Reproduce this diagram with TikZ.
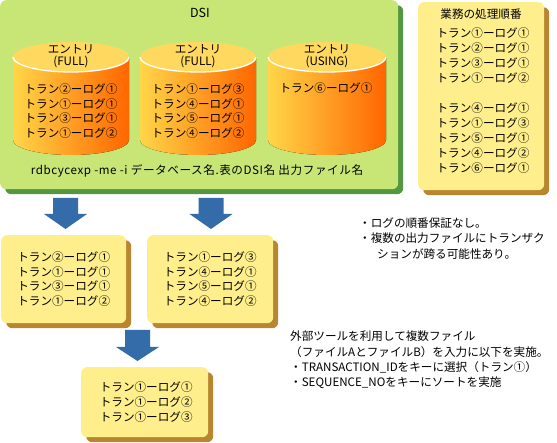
\documentclass[tikz,border=0pt]{standalone}
\usepackage{fontspec}
\setmainfont{Noto Sans CJK JP}
\usetikzlibrary{shadows}
\definecolor{dsigreen}{RGB}{200,230,118}
\definecolor{dsishadow}{RGB}{84,150,66}
\definecolor{memo}{RGB}{255,238,140}
\definecolor{memoshadow}{RGB}{184,134,48}
\definecolor{cyltop}{RGB}{255,216,96}
\definecolor{cylleft}{RGB}{255,214,72}
\definecolor{cylright}{RGB}{255,102,0}
\definecolor{arrowblue}{RGB}{51,108,168}
\begin{document}
\begin{tikzpicture}[x=1pt,y=-1pt,
  txt/.style={font=\fontsize{11.6}{14.7}\selectfont, inner sep=0pt, align=center},
  txtb/.style={font=\fontsize{11.6}{15}\selectfont, inner sep=0pt, align=center},
  notetxt/.style={font=\fontsize{11.6}{15.3}\selectfont, inner sep=0pt, align=left, anchor=west},
  greenbox/.style={anchor=north west, fill=dsigreen, rounded corners=6pt, inner sep=0pt,
    drop shadow={shadow xshift=5pt, shadow yshift=-5pt, fill=dsishadow, opacity=1}},
  memobox/.style={anchor=north west, fill=memo, rounded corners=6pt, inner sep=0pt,
    font=\fontsize{11.6}{14.7}\selectfont, align=center,
    drop shadow={shadow xshift=5pt, shadow yshift=-5pt, fill=memoshadow, opacity=1}},
  blockarrow/.style={fill=arrowblue}
]
\useasboundingbox (0,0) rectangle (557,443);

% DSI container
\node[greenbox, minimum width=398pt, minimum height=189pt] (dsi) at (0,0) {};
\node[txt, font=\fontsize{12.5}{14}\selectfont] (dsititle) at (200,13) {DSI};

% cylinders
\foreach \xl/\xr in {13/129, 140/256, 268/386} {
  \pgfmathsetmacro{\cx}{(\xl+\xr)/2}
  \pgfmathsetmacro{\rx}{(\xr-\xl)/2}
  \fill[left color=cylleft, right color=cylright]
    (\xl,57) -- (\xl,140) arc[start angle=180, end angle=360, x radius=\rx pt, y radius=15pt]
    -- (\xr,57) -- cycle;
  \fill[cyltop] (\cx,57) ellipse[x radius=\rx pt, y radius=15pt];
  \draw[white, line width=1.3pt] (\xl,57) arc[start angle=180, end angle=360, x radius=\rx pt, y radius=15pt];
}
\node[txt] (c1h) at (71,49) {エントリ};
\node[txt] (c1m) at (71,62) {(FULL)};
\node[txt] (c1t) at (71,111) {トラン②ーログ①\\トラン①ーログ①\\トラン③ーログ①\\トラン①ーログ②};
\node[txt] (c2h) at (198,49) {エントリ};
\node[txt] (c2m) at (198,62) {(FULL)};
\node[txt] (c2t) at (198,111) {トラン①ーログ③\\トラン④ーログ①\\トラン⑤ーログ①\\トラン④ーログ②};
\node[txt] (c3h) at (327,49) {エントリ};
\node[txt] (c3m) at (327,62) {(USING)};
\node[txt] (c3t) at (326,88) {トラン⑥ーログ①};

\node[txt] (cmd) at (197,171) {\addfontfeature{LetterSpace=5}rdbcycexp -me -i データベース名.表のDSI名 出力ファイル名};

% business order memo
\node[memobox, minimum width=126pt, minimum height=188pt] (order) at (418,2) {};
\node[txt] (ordertitle) at (481,14) {業務の処理順番};
\node[txtb] (order1) at (483,55.5) {トラン①ーログ①\\トラン②ーログ①\\トラン③ーログ①\\トラン①ーログ②};
\node[txtb] (order2) at (483,138) {トラン④ーログ①\\トラン①ーログ③\\トラン⑤ーログ①\\トラン④ーログ②\\トラン⑥ーログ①};

% output files
\node[memobox, minimum width=125pt, minimum height=88pt] (fileA) at (1,235)
  {トラン②ーログ①\\トラン①ーログ①\\トラン③ーログ①\\トラン①ーログ②};
\node[memobox, minimum width=126pt, minimum height=88pt] (fileB) at (147,235)
  {トラン①ーログ③\\トラン④ーログ①\\トラン⑤ーログ①\\トラン④ーログ②};
\node[memobox, minimum width=127pt, minimum height=70pt] (fileC) at (81,367)
  {\hspace*{3pt}トラン①ーログ①\\\hspace*{3pt}トラン①ーログ②\\\hspace*{3pt}トラン①ーログ③};

% block arrows
\coordinate (a1) at (65.5,198);
\coordinate (a2) at (211,198);
\coordinate (a3) at (137.5,330);
\fill[blockarrow] (a1) ++(-12.5,0) -- ++(25,0) -- ++(0,16) -- ++(9,0) -- ++(-21.5,15) -- ++(-21.5,-15) -- ++(9,0) -- cycle;
\fill[blockarrow] (a2) ++(-12.5,0) -- ++(25,0) -- ++(0,16) -- ++(9,0) -- ++(-21.5,15) -- ++(-21.5,-15) -- ++(9,0) -- cycle;
\fill[blockarrow] (a3) ++(-12.5,0) -- ++(25,0) -- ++(0,17) -- ++(9,0) -- ++(-21.5,14) -- ++(-21.5,-14) -- ++(9,0) -- cycle;

% notes
\node[notetxt] (note1) at (359,238.5) {・ログの順番保証なし。\\・複数の出力ファイルにトランザク\\\hspace*{18pt}ションが跨る可能性あり。};
\node[notetxt] (note2) at (290,360) {外部ツールを利用して複数ファイル\\（ファイルAとファイルB）を入力に以下を実施。\\・TRANSACTION\_IDをキーに選択（トラン①）\\・SEQUENCE\_NOをキーにソートを実施};
\end{tikzpicture}
\end{document}
